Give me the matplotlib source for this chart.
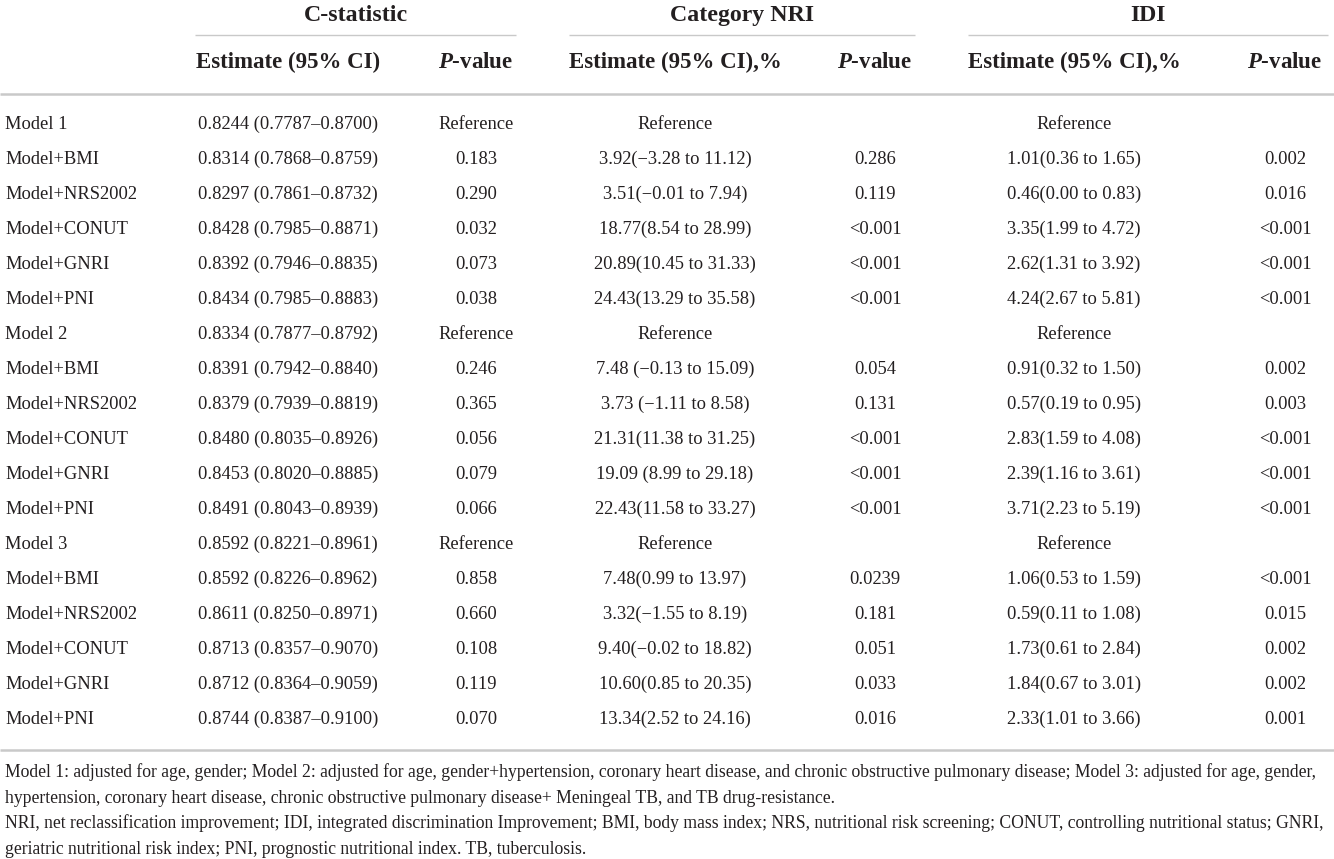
import matplotlib
matplotlib.use("Agg")
from matplotlib import pyplot as plt

plt.rcParams['font.family'] = ['Liberation Serif', 'DejaVu Serif']
plt.rcParams['mathtext.fontset'] = 'custom'
plt.rcParams['mathtext.it'] = 'Liberation Serif:italic:bold'
plt.rcParams['mathtext.rm'] = 'Liberation Serif:bold'

groups = ["C-statistic", "Category NRI", "IDI"]
sub_headers = ["Estimate (95% CI)", r"$\mathit{P}$-value",
               "Estimate (95% CI),%", r"$\mathit{P}$-value",
               "Estimate (95% CI),%", r"$\mathit{P}$-value"]

row_labels = ["Model 1", "Model+BMI", "Model+NRS2002", "Model+CONUT", "Model+GNRI", "Model+PNI",
              "Model 2", "Model+BMI", "Model+NRS2002", "Model+CONUT", "Model+GNRI", "Model+PNI",
              "Model 3", "Model+BMI", "Model+NRS2002", "Model+CONUT", "Model+GNRI", "Model+PNI"]

c_est = ["0.8244 (0.7787–0.8700)", "0.8314 (0.7868–0.8759)", "0.8297 (0.7861–0.8732)",
         "0.8428 (0.7985–0.8871)", "0.8392 (0.7946–0.8835)", "0.8434 (0.7985–0.8883)",
         "0.8334 (0.7877–0.8792)", "0.8391 (0.7942–0.8840)", "0.8379 (0.7939–0.8819)",
         "0.8480 (0.8035–0.8926)", "0.8453 (0.8020–0.8885)", "0.8491 (0.8043–0.8939)",
         "0.8592 (0.8221–0.8961)", "0.8592 (0.8226–0.8962)", "0.8611 (0.8250–0.8971)",
         "0.8713 (0.8357–0.9070)", "0.8712 (0.8364–0.9059)", "0.8744 (0.8387–0.9100)"]
c_p = ["Reference", "0.183", "0.290", "0.032", "0.073", "0.038",
       "Reference", "0.246", "0.365", "0.056", "0.079", "0.066",
       "Reference", "0.858", "0.660", "0.108", "0.119", "0.070"]

nri_est = ["Reference", "3.92(−3.28 to 11.12)", "3.51(−0.01 to 7.94)",
           "18.77(8.54 to 28.99)", "20.89(10.45 to 31.33)", "24.43(13.29 to 35.58)",
           "Reference", "7.48 (−0.13 to 15.09)", "3.73 (−1.11 to 8.58)",
           "21.31(11.38 to 31.25)", "19.09 (8.99 to 29.18)", "22.43(11.58 to 33.27)",
           "Reference", "7.48(0.99 to 13.97)", "3.32(−1.55 to 8.19)",
           "9.40(−0.02 to 18.82)", "10.60(0.85 to 20.35)", "13.34(2.52 to 24.16)"]
nri_p = ["", "0.286", "0.119", "<0.001", "<0.001", "<0.001",
         "", "0.054", "0.131", "<0.001", "<0.001", "<0.001",
         "", "0.0239", "0.181", "0.051", "0.033", "0.016"]

idi_est = ["Reference", "1.01(0.36 to 1.65)", "0.46(0.00 to 0.83)",
           "3.35(1.99 to 4.72)", "2.62(1.31 to 3.92)", "4.24(2.67 to 5.81)",
           "Reference", "0.91(0.32 to 1.50)", "0.57(0.19 to 0.95)",
           "2.83(1.59 to 4.08)", "2.39(1.16 to 3.61)", "3.71(2.23 to 5.19)",
           "Reference", "1.06(0.53 to 1.59)", "0.59(0.11 to 1.08)",
           "1.73(0.61 to 2.84)", "1.84(0.67 to 3.01)", "2.33(1.01 to 3.66)"]
idi_p = ["", "0.002", "0.016", "<0.001", "<0.001", "<0.001",
         "", "0.002", "0.003", "<0.001", "<0.001", "<0.001",
         "", "<0.001", "0.015", "0.002", "0.002", "0.001"]

footnotes = [
    "Model 1: adjusted for age, gender; Model 2: adjusted for age, gender+hypertension, coronary heart disease, "
    "and chronic obstructive pulmonary disease; Model 3: adjusted for age, gender,",
    "hypertension, coronary heart disease, chronic obstructive pulmonary disease+ Meningeal TB, and TB drug-resistance.",
    "NRI, net reclassification improvement; IDI, integrated discrimination Improvement; BMI, body mass index; "
    "NRS, nutritional risk screening; CONUT, controlling nutritional status; GNRI,",
    "geriatric nutritional risk index; PNI, prognostic nutritional index. TB, tuberculosis.",
]

W, H = 1334, 859
TXT = '#231f20'
RULE = '#c9c9c9'

fig = plt.figure(figsize=(W / 100, H / 100), dpi=100)
ax = fig.add_axes([0, 0, 1, 1])
ax.set_xlim(0, W)
ax.set_ylim(H, 0)
ax.axis('off')

# column layout (pixels)
col_x = [288, 476, 675, 875, 1074, 1285]
group_spans = [(195, 516), (569, 915), (968, 1328)]

for name, (x0, x1) in zip(groups, group_spans):
    ax.text((x0 + x1) / 2, 21, name, ha='center', va='baseline', fontsize=17.2,
            fontweight='bold', color=TXT)
    ax.plot([x0, x1], [35, 35], color=RULE, lw=1.0, solid_capstyle='butt')

for x, s in zip(col_x, sub_headers):
    ax.text(x, 68, s, ha='center', va='baseline', fontsize=16.5, fontweight='bold', color=TXT)

ax.plot([0, W], [94, 94], color=RULE, lw=1.8, solid_capstyle='butt')

y0, dy = 129, 35
columns = [c_est, c_p, nri_est, nri_p, idi_est, idi_p]
for i, lab in enumerate(row_labels):
    y = y0 + i * dy
    ax.text(5, y, lab, ha='left', va='baseline', fontsize=13.3, color=TXT)
    for x, col in zip(col_x, columns):
        ax.text(x, y, col[i], ha='center', va='baseline', fontsize=13.3, color=TXT)

ax.plot([0, W], [750, 750], color=RULE, lw=1.8, solid_capstyle='butt')

for k, line in enumerate(footnotes):
    ax.text(5, 777 + k * 25.7, line, ha='left', va='baseline', fontsize=12.7, color=TXT)

fig.savefig('out.png', dpi=100)
